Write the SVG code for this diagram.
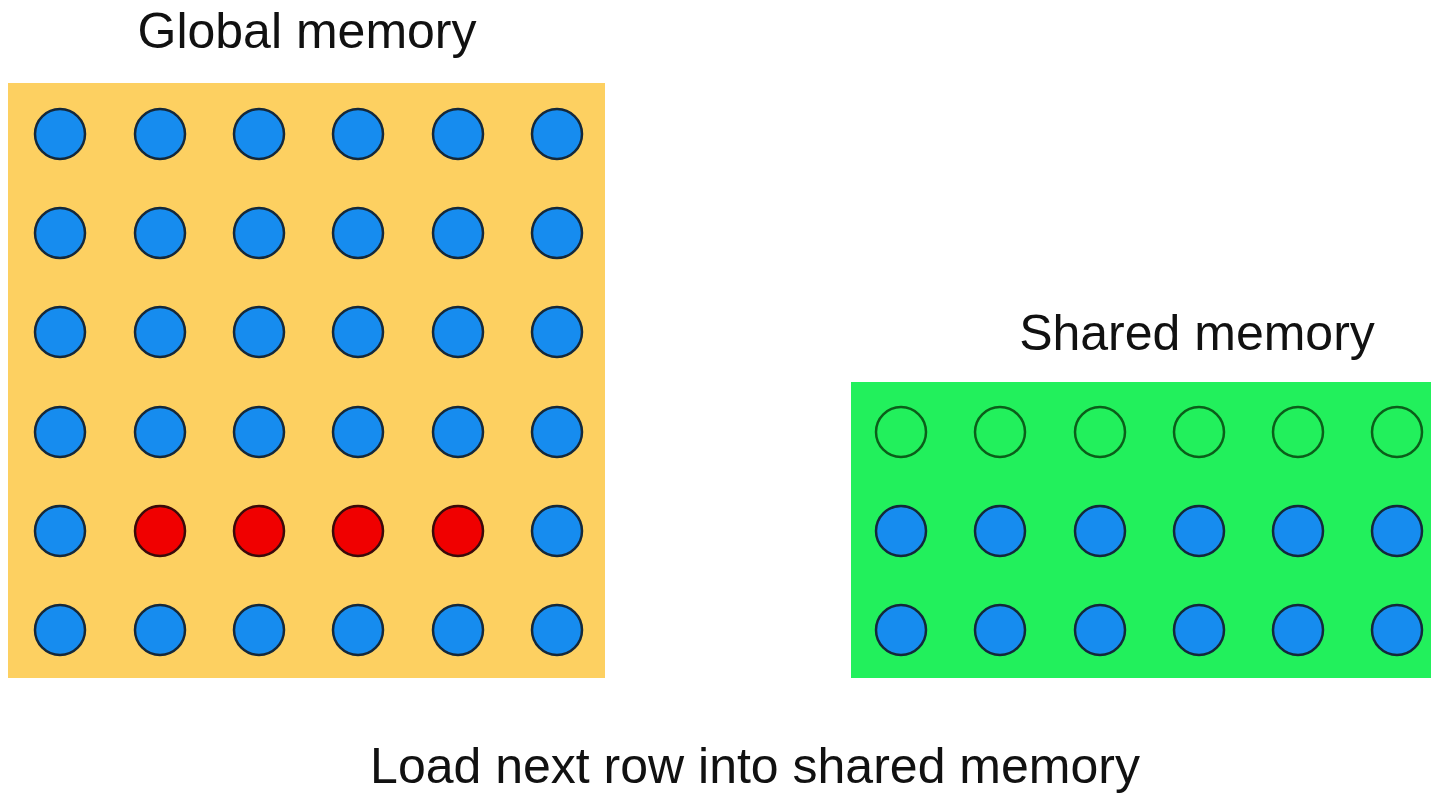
<svg xmlns="http://www.w3.org/2000/svg" width="1431" height="795" viewBox="0 0 1431 795">
<style>
text{font-family:"Liberation Sans",Arial,sans-serif;font-size:50px;fill:#111;text-anchor:middle}
.b{fill:#168CEF;stroke:#14283A;stroke-width:2.5}
.r{fill:#F00000;stroke:#3A0A0A;stroke-width:2.5}
.e{fill:none;stroke:#0B5E1A;stroke-width:2.5}
</style>
<rect width="1431" height="795" fill="#fff"/>
<g id="global">
<text x="307" y="48">Global memory</text>
<rect x="8" y="83" width="597" height="595" fill="#FDD061"/>
<g id="global-cells">
<circle class="b" cx="60" cy="134" r="25"/><circle class="b" cx="160" cy="134" r="25"/><circle class="b" cx="259" cy="134" r="25"/><circle class="b" cx="358" cy="134" r="25"/><circle class="b" cx="458" cy="134" r="25"/><circle class="b" cx="557" cy="134" r="25"/>
<circle class="b" cx="60" cy="233" r="25"/><circle class="b" cx="160" cy="233" r="25"/><circle class="b" cx="259" cy="233" r="25"/><circle class="b" cx="358" cy="233" r="25"/><circle class="b" cx="458" cy="233" r="25"/><circle class="b" cx="557" cy="233" r="25"/>
<circle class="b" cx="60" cy="332" r="25"/><circle class="b" cx="160" cy="332" r="25"/><circle class="b" cx="259" cy="332" r="25"/><circle class="b" cx="358" cy="332" r="25"/><circle class="b" cx="458" cy="332" r="25"/><circle class="b" cx="557" cy="332" r="25"/>
<circle class="b" cx="60" cy="432" r="25"/><circle class="b" cx="160" cy="432" r="25"/><circle class="b" cx="259" cy="432" r="25"/><circle class="b" cx="358" cy="432" r="25"/><circle class="b" cx="458" cy="432" r="25"/><circle class="b" cx="557" cy="432" r="25"/>
<circle class="b" cx="60" cy="531" r="25"/><circle class="r" cx="160" cy="531" r="25"/><circle class="r" cx="259" cy="531" r="25"/><circle class="r" cx="358" cy="531" r="25"/><circle class="r" cx="458" cy="531" r="25"/><circle class="b" cx="557" cy="531" r="25"/>
<circle class="b" cx="60" cy="630" r="25"/><circle class="b" cx="160" cy="630" r="25"/><circle class="b" cx="259" cy="630" r="25"/><circle class="b" cx="358" cy="630" r="25"/><circle class="b" cx="458" cy="630" r="25"/><circle class="b" cx="557" cy="630" r="25"/>
</g>
</g>
<g id="shared">
<text x="1197" y="350">Shared memory</text>
<rect x="851" y="382" width="580" height="296" fill="#22F05C"/>
<g id="shared-cells">
<circle class="e" cx="901" cy="432" r="25"/><circle class="e" cx="1000" cy="432" r="25"/><circle class="e" cx="1100" cy="432" r="25"/><circle class="e" cx="1199" cy="432" r="25"/><circle class="e" cx="1298" cy="432" r="25"/><circle class="e" cx="1397" cy="432" r="25"/>
<circle class="b" cx="901" cy="531" r="25"/><circle class="b" cx="1000" cy="531" r="25"/><circle class="b" cx="1100" cy="531" r="25"/><circle class="b" cx="1199" cy="531" r="25"/><circle class="b" cx="1298" cy="531" r="25"/><circle class="b" cx="1397" cy="531" r="25"/>
<circle class="b" cx="901" cy="630" r="25"/><circle class="b" cx="1000" cy="630" r="25"/><circle class="b" cx="1100" cy="630" r="25"/><circle class="b" cx="1199" cy="630" r="25"/><circle class="b" cx="1298" cy="630" r="25"/><circle class="b" cx="1397" cy="630" r="25"/>
</g>
</g>
<g id="connectors"/>
<text id="caption" x="755" y="783">Load next row into shared memory</text>
</svg>
